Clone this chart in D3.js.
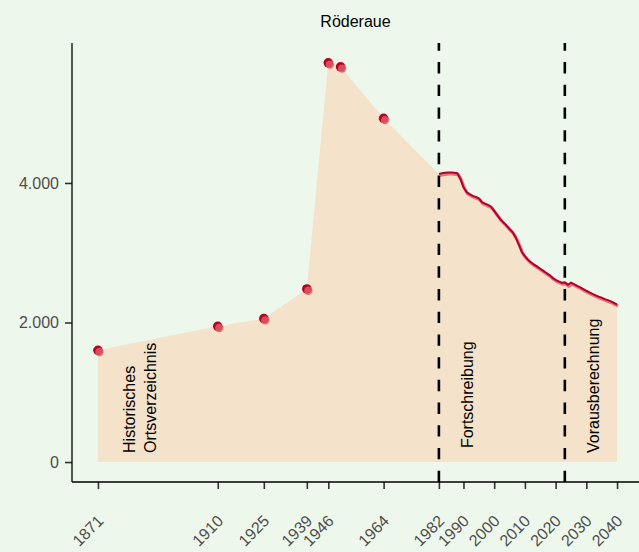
<!DOCTYPE html>
<html>
<head>
<meta charset="utf-8">
<script src="https://cdn.jsdelivr.net/npm/d3@7"></script>
<style>
  body { margin: 0; background: #edf7eb; }
  text { font-family: "Liberation Sans", Arial, sans-serif; }
</style>
</head>
<body>
<script>
// historic census points
const histYears = [1871, 1910, 1925, 1939, 1946, 1950, 1964];
const histValues = [1602, 1946, 2056, 2481, 5722, 5665, 4927];

// annual series 1982-2040 (Fortschreibung + Vorausberechnung)
const seriesYears = d3.range(1982, 2041);
const seriesValues = [
  4130, 4140, 4145, 4150, 4150, 4145, 4140, 4060, 3940, 3870,
  3840, 3815, 3800, 3780, 3725, 3705, 3685, 3660, 3600, 3540,
  3480, 3435, 3390, 3340, 3295, 3220, 3120, 3010, 2950, 2900,
  2860, 2830, 2800, 2770, 2740, 2710, 2680, 2640, 2610, 2590,
  2570, 2575, 2540, 2570, 2550, 2525, 2505, 2480, 2455, 2432,
  2410, 2390, 2370, 2355, 2335, 2320, 2303, 2280, 2255
];

const tickYears = [1871, 1910, 1925, 1939, 1946, 1964, 1982, 1990, 2000, 2010, 2020, 2030, 2040];
const yTicks = [0, 2000, 4000];
const breakYears = [1982, 2023];
const periodLabels = [
  {year: 1883, value: 130, text: 'Historisches'},
  {year: 1890, value: 130, text: 'Ortsverzeichnis'},
  {year: 1993, value: 200, text: 'Fortschreibung'},
  {year: 2034, value: 130, text: 'Vorausberechnung'}
];
const titleText = 'Röderaue';

var width = 639, height = 552;
var margin = {top: 43, bottom: 70, left: 72, right: -4};

var svg = d3.select("body").append("svg")
    .attr("width", width)
    .attr("height", height);

svg.append("rect")
    .attr("width", width).attr("height", height)
    .attr("fill", "#edf7eb");

const xScale = d3.scaleLinear()
    .domain([1871 - 8.45, 2040 + 8.45])
    .range([margin.left, width - margin.right]);

const yScale = d3.scaleLinear()
    .domain([-286, 6006])
    .range([height - margin.bottom, margin.top]);

const fmt = d3.format(",.0f");
const deFormat = v => fmt(v).replace(/,/g, ".");

// combined data for the area
const all = histYears.map((y, i) => ({year: y, value: histValues[i]}))
    .concat(seriesYears.map((y, i) => ({year: y, value: seriesValues[i]})));

const area = d3.area()
    .x(d => xScale(d.year))
    .y0(yScale(0))
    .y1(d => yScale(d.value));

svg.append("path")
    .attr("d", area(all))
    .attr("fill", "#f5e2cb");

// line of yearly values, with a lighter shadow
const series = seriesYears.map((y, i) => ({year: y, value: seriesValues[i]}));
const line = d3.line()
    .x(d => xScale(d.year))
    .y(d => yScale(d.value));

svg.append("path")
    .attr("d", line(series))
    .attr("transform", "translate(1,1.5)")
    .attr("fill", "none")
    .attr("stroke", "#dc5a6a")
    .attr("stroke-opacity", 0.8)
    .attr("stroke-width", 3.2);

svg.append("path")
    .attr("d", line(series))
    .attr("fill", "none")
    .attr("stroke", "#b5002a")
    .attr("stroke-width", 2);

// historic points
const hist = histYears.map((y, i) => ({year: y, value: histValues[i]}));
svg.selectAll(".pt")
    .data(hist).enter()
    .append("circle")
    .attr("cx", d => xScale(d.year))
    .attr("cy", d => yScale(d.value))
    .attr("r", 4.8)
    .attr("fill", "#b8001f");

svg.selectAll(".pt2")
    .data(hist).enter()
    .append("circle")
    .attr("cx", d => xScale(d.year) + 1.5)
    .attr("cy", d => yScale(d.value) + 1.8)
    .attr("r", 4.2)
    .attr("fill", "#dc5a66")
    .attr("fill-opacity", 0.85);

// dashed period breaks
svg.selectAll(".brk")
    .data(breakYears).enter()
    .append("line")
    .attr("x1", d => xScale(d)).attr("x2", d => xScale(d))
    .attr("y1", height - margin.bottom).attr("y2", margin.top)
    .attr("stroke", "#000")
    .attr("stroke-width", 2.6)
    .attr("stroke-dasharray", "11.35,11.35");

// period labels
svg.selectAll(".lab")
    .data(periodLabels).enter()
    .append("text")
    .attr("transform", d => `translate(${xScale(d.year)},${yScale(d.value)}) rotate(-90)`)
    .attr("font-size", 16)
    .attr("fill", "#000")
    .text(d => d.text);

// axes
const yAxis = d3.axisLeft(yScale)
    .tickValues(yTicks)
    .tickFormat(deFormat)
    .tickSize(7)
    .tickPadding(6);

const gy = svg.append("g")
    .attr("transform", `translate(${margin.left},0)`)
    .call(yAxis);
gy.select(".domain").remove();
gy.selectAll(".tick line").attr("stroke", "#333").attr("stroke-width", 1.6);
gy.selectAll(".tick text").attr("fill", "#4d4d4d").attr("font-size", 16)
    .attr("font-family", "Liberation Sans, Arial, sans-serif");

const xAxis = d3.axisBottom(xScale)
    .tickValues(tickYears)
    .tickFormat(d3.format("d"))
    .tickSize(7);

const gx = svg.append("g")
    .attr("transform", `translate(0,${height - margin.bottom})`)
    .call(xAxis);
gx.select(".domain").remove();
gx.selectAll(".tick line").attr("stroke", "#333").attr("stroke-width", 1.6);
gx.selectAll(".tick text")
    .attr("fill", "#4d4d4d")
    .attr("font-size", 16)
    .attr("font-family", "Liberation Sans, Arial, sans-serif")
    .attr("text-anchor", "end")
    .attr("dy", null)
    .attr("y", null)
    .attr("transform", "translate(6,40) rotate(-45)");

// axis lines
svg.append("line")
    .attr("x1", margin.left).attr("x2", margin.left)
    .attr("y1", margin.top).attr("y2", height - margin.bottom)
    .attr("stroke", "#000").attr("stroke-width", 1.3);

svg.append("line")
    .attr("x1", margin.left).attr("x2", width)
    .attr("y1", height - margin.bottom).attr("y2", height - margin.bottom)
    .attr("stroke", "#000").attr("stroke-width", 1.3);

// title
svg.append("text")
    .attr("x", (margin.left + width) / 2)
    .attr("y", 27)
    .attr("text-anchor", "middle")
    .attr("font-size", 16)
    .attr("fill", "#000")
    .text(titleText);
</script>
</body>
</html>
